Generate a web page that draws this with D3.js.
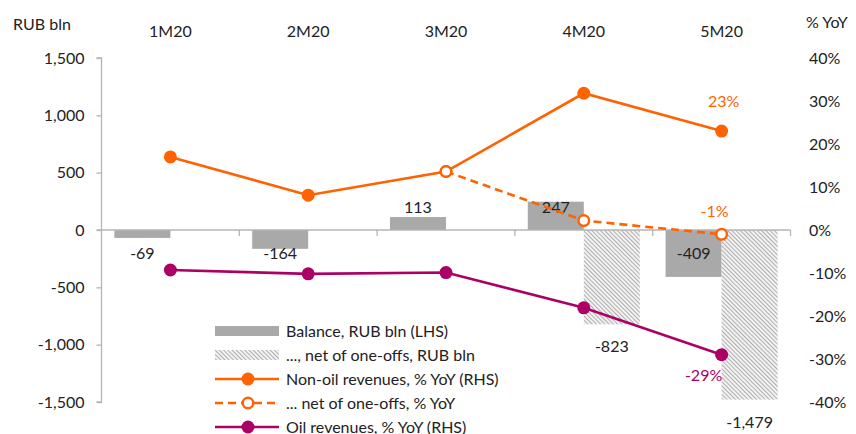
<!DOCTYPE html>
<html>
<head>
<meta charset="utf-8">
<script src="https://cdn.jsdelivr.net/npm/d3@7"></script>
<style>
  html, body { margin: 0; padding: 0; background: #fff; }
  svg { display: block; font-family: Lato, "Open Sans", sans-serif; }
</style>
</head>
<body>
<svg id="chart" width="856" height="434"></svg>
<script>
// Russian federal budget, year-to-date
const categories = ["1M20", "2M20", "3M20", "4M20", "5M20"];
const balance = [-69, -164, 113, 247, -409];              // RUB bln (LHS)
const balanceNetOneOffs = [null, null, null, -823, -1479]; // RUB bln (LHS)
const nonOilYoY = [17, 8.1, 13.6, 31.8, 23];               // % YoY (RHS)
const nonOilNetOneOffsYoY = [null, null, 13.6, 2.2, -1];   // % YoY (RHS)
const oilYoY = [-9.3, -10.2, -9.9, -18.1, -29];            // % YoY (RHS)
const leftTicks = [-1500, -1000, -500, 0, 500, 1000, 1500];
const rightTicks = [-40, -30, -20, -10, 0, 10, 20, 30, 40];

const ORANGE = "#ff6200", PURPLE = "#ab0066", GREY = "#a9a9a9", AXIS = "#b5b5b5", TEXT = "#222";
const FS = 16;

const locale = d3.formatLocale({decimal: ".", thousands: ",", grouping: [3], currency: ["", ""], minus: "-"});
const fmt = locale.format(",");

const svg = d3.select("#chart");
const defs = svg.append("defs");
const pat = defs.append("pattern")
  .attr("id", "hatch").attr("patternUnits", "userSpaceOnUse")
  .attr("width", 3).attr("height", 3)
  .attr("patternTransform", "rotate(-45)");
pat.append("rect").attr("width", 3).attr("height", 3).attr("fill", "#f2f2f2");
pat.append("line").attr("x1", 0).attr("y1", 0).attr("x2", 0).attr("y2", 3)
  .attr("stroke", "#9e9e9e").attr("stroke-width", 1.6);

const x = d3.scaleBand().domain(categories).range([101.5, 790.5]).paddingInner(0).paddingOuter(0);
const inner = d3.scaleBand().domain(["bal", "net"]).range([0, x.bandwidth()]).paddingOuter(0.23).paddingInner(0);
const yL = d3.scaleLinear().domain([-1500, 1500]).range([402, 58]);
const yR = d3.scaleLinear().domain([-40, 40]).range([402, 58]);
const cx = c => x(c) + x.bandwidth() / 2;

// Left axis
const gL = svg.append("g").attr("transform", `translate(${x.range()[0]},0)`)
  .call(d3.axisLeft(yL).tickValues(leftTicks).tickFormat(fmt).tickSize(5).tickPadding(12));
gL.select(".domain").attr("stroke", AXIS).attr("stroke-width", 1.3).attr("d", `M-5,${yL(1500)}H0V${yL(-1500)}H-5`);
gL.selectAll(".tick line").attr("stroke", AXIS).attr("stroke-width", 1.3);
gL.selectAll(".tick text").attr("fill", TEXT).attr("font-size", FS).attr("font-family", "Lato, sans-serif");

// Right axis (labels only)
const gR = svg.append("g").attr("transform", `translate(809,0)`)
  .call(d3.axisRight(yR).tickValues(rightTicks).tickFormat(d => fmt(d) + "%").tickSize(0).tickPadding(0));
gR.select(".domain").remove();
gR.selectAll(".tick text").attr("fill", TEXT).attr("font-size", FS).attr("font-family", "Lato, sans-serif");

// Axis titles
svg.append("text").attr("x", 13).attr("y", 30).attr("font-size", FS).attr("fill", TEXT).text("RUB bln");
svg.append("text").attr("x", 806).attr("y", 28).attr("font-size", FS).attr("fill", TEXT).text("% YoY");

// Category labels at top
svg.append("g").selectAll("text").data(categories).join("text")
  .attr("x", d => cx(d)).attr("y", 37).attr("text-anchor", "middle")
  .attr("font-size", FS).attr("fill", TEXT).text(d => d);

// Bars: balance
svg.append("g").selectAll("rect").data(categories.map((c, i) => ({c, v: balance[i]}))).join("rect")
  .attr("x", d => x(d.c) + inner("bal")).attr("width", inner.bandwidth())
  .attr("y", d => Math.min(yL(d.v), yL(0))).attr("height", d => Math.abs(yL(d.v) - yL(0)))
  .attr("fill", GREY);

// Bars: balance net of one-offs
const netData = categories.map((c, i) => ({c, v: balanceNetOneOffs[i]})).filter(d => d.v != null);
svg.append("g").selectAll("rect").data(netData).join("rect")
  .attr("x", d => x(d.c) + inner("net")).attr("width", inner.bandwidth())
  .attr("y", d => Math.min(yL(d.v), yL(0))).attr("height", d => Math.abs(yL(d.v) - yL(0)))
  .attr("fill", "url(#hatch)");

// Zero line with category ticks
const zeroY = yL(0);
svg.append("line").attr("x1", x.range()[0] - 5).attr("x2", x.range()[1]).attr("y1", zeroY).attr("y2", zeroY)
  .attr("stroke", AXIS).attr("stroke-width", 1.3);
svg.append("g").selectAll("line").data(categories.slice(1).map(c => x(c)).concat([x.range()[1]])).join("line")
  .attr("x1", d => d).attr("x2", d => d).attr("y1", zeroY).attr("y2", zeroY + 6)
  .attr("stroke", AXIS).attr("stroke-width", 1.3);

// Bar value labels
svg.append("g").selectAll("text").data(categories.map((c, i) => ({c, v: balance[i]}))).join("text")
  .attr("x", d => x(d.c) + inner("bal") + inner.bandwidth() / 2)
  .attr("y", d => d.v >= 0 ? zeroY - 17 : zeroY + 29)
  .attr("text-anchor", "middle").attr("font-size", FS).attr("fill", TEXT).text(d => fmt(d.v));
svg.append("g").selectAll("text").data(netData).join("text")
  .attr("x", d => x(d.c) + inner("net") + inner.bandwidth() / 2)
  .attr("y", d => yL(d.v) + 28)
  .attr("text-anchor", "middle").attr("font-size", FS).attr("fill", TEXT).text(d => fmt(d.v));

// Lines
const line = d3.line().defined(d => d.v != null).x(d => cx(d.c)).y(d => yR(d.v));
const pts = arr => categories.map((c, i) => ({c, v: arr[i]}));

svg.append("path").datum(pts(nonOilNetOneOffsYoY)).attr("d", line)
  .attr("fill", "none").attr("stroke", ORANGE).attr("stroke-width", 2.6).attr("stroke-dasharray", "8,5");
svg.append("path").datum(pts(nonOilYoY)).attr("d", line)
  .attr("fill", "none").attr("stroke", ORANGE).attr("stroke-width", 2.6);
svg.append("path").datum(pts(oilYoY)).attr("d", line)
  .attr("fill", "none").attr("stroke", PURPLE).attr("stroke-width", 2.6);

svg.append("g").selectAll("circle").data(pts(nonOilYoY)).join("circle")
  .attr("cx", d => cx(d.c)).attr("cy", d => yR(d.v)).attr("r", 6.5).attr("fill", ORANGE);
svg.append("g").selectAll("circle").data(pts(oilYoY)).join("circle")
  .attr("cx", d => cx(d.c)).attr("cy", d => yR(d.v)).attr("r", 6.5).attr("fill", PURPLE);
svg.append("g").selectAll("circle").data(pts(nonOilNetOneOffsYoY).filter(d => d.v != null)).join("circle")
  .attr("cx", d => cx(d.c)).attr("cy", d => yR(d.v)).attr("r", 5.3)
  .attr("fill", "#fff").attr("stroke", ORANGE).attr("stroke-width", 2.4);

// Line value labels for latest month
const li = categories.length - 1;
const last = categories[li];
svg.append("text").attr("x", cx(last) + 2).attr("y", yR(nonOilYoY[li]) - 24)
  .attr("text-anchor", "middle").attr("font-size", FS).attr("fill", ORANGE).text(fmt(Math.round(nonOilYoY[li])) + "%");
svg.append("text").attr("x", cx(last) - 7).attr("y", yR(nonOilNetOneOffsYoY[li]) - 17)
  .attr("text-anchor", "middle").attr("font-size", FS).attr("fill", ORANGE).text(fmt(Math.round(nonOilNetOneOffsYoY[li])) + "%");
svg.append("text").attr("x", cx(last) - 18).attr("y", yR(oilYoY[li]) + 26)
  .attr("text-anchor", "middle").attr("font-size", FS).attr("fill", PURPLE).text(fmt(Math.round(oilYoY[li])) + "%");

// Legend
const legend = [
  {label: "Balance, RUB bln (LHS)", type: "bar", fill: GREY},
  {label: "..., net of one-offs, RUB bln", type: "bar", fill: "url(#hatch)"},
  {label: "Non-oil revenues, % YoY (RHS)", type: "line", color: ORANGE},
  {label: "... net of one-offs, % YoY", type: "dash", color: ORANGE},
  {label: "Oil revenues, % YoY (RHS)", type: "line", color: PURPLE}
];
const lg = svg.append("g").attr("transform", "translate(215,331)");
legend.forEach((d, i) => {
  const g = lg.append("g").attr("transform", `translate(0,${i * 24})`);
  if (d.type === "bar") {
    g.append("rect").attr("x", 0).attr("y", -5).attr("width", 64).attr("height", 10).attr("fill", d.fill);
  } else {
    g.append("line").attr("x1", 0).attr("x2", 64).attr("y1", 0).attr("y2", 0)
      .attr("stroke", d.color).attr("stroke-width", 2.6)
      .attr("stroke-dasharray", d.type === "dash" ? "8,5" : null);
    if (d.type === "dash") {
      g.append("circle").attr("cx", 33).attr("cy", 0).attr("r", 5.3)
        .attr("fill", "#fff").attr("stroke", d.color).attr("stroke-width", 2.4);
    } else {
      g.append("circle").attr("cx", 33).attr("cy", 0).attr("r", 6.5).attr("fill", d.color);
    }
  }
  g.append("text").attr("x", 71).attr("y", 6).attr("font-size", FS).attr("fill", TEXT).text(d.label);
});
</script>
</body>
</html>
